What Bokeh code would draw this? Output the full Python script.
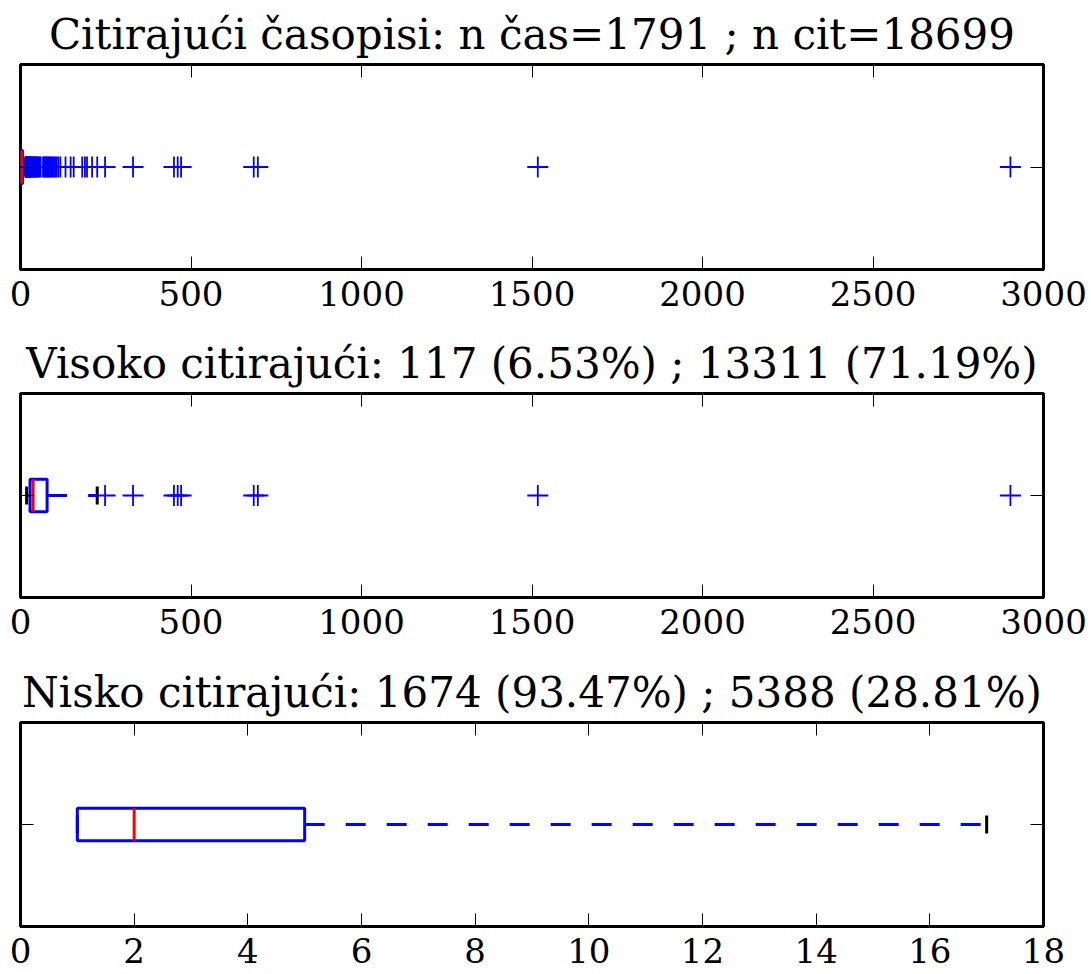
from bokeh.plotting import figure
from bokeh.models import Range1d, LinearAxis, FixedTicker
from bokeh.layouts import column
from bokeh.embed import file_html
from bokeh.resources import INLINE

FONT = "DejaVu Serif"

titles = [
    "Citirajući časopisi: n čas=1791 ; n cit=18699",
    "Visoko citirajući: 117 (6.53%) ; 13311 (71.19%)",
    "Nisko citirajući: 1674 (93.47%) ; 5388 (28.81%)",
]

# box statistics: q1, median, q3, lower whisker, upper whisker
stats_all = [1, 3, 6, 1, 13]
stats_high = [28, 37, 78, 18, 225]
stats_low = [1, 2, 5, 1, 17]

outliers_all = [14, 15, 16, 17, 18, 19, 20, 21, 22, 23, 24, 25, 26, 27, 28, 29, 30,
                32, 34, 36, 38, 40, 42, 44, 46, 48, 50, 53, 56, 59, 66, 69, 72, 75,
                78, 81, 84, 87, 90, 94, 98, 102, 106, 111, 117,
                132, 147, 156, 181, 189, 195, 210, 225, 248, 330,
                450, 461, 471, 684, 696, 1517, 2903]
outliers_high = [248, 330, 450, 461, 471, 684, 696, 1517, 2903]
outliers_low = []

ticks_wide = [0, 500, 1000, 1500, 2000, 2500, 3000]
ticks_low = [0, 2, 4, 6, 8, 10, 12, 14, 16, 18]


def style_axis(ax, ticks, labels=True):
    ax.ticker = FixedTicker(ticks=ticks)
    ax.major_tick_in = 13
    ax.major_tick_out = 0
    ax.major_tick_line_color = "black"
    ax.major_tick_line_width = 1
    ax.minor_tick_line_color = None
    ax.axis_line_color = None
    if labels:
        ax.major_label_text_font = FONT
        ax.major_label_text_font_size = "34px"
        ax.major_label_text_color = "black"
        ax.major_label_standoff = 11
    else:
        ax.major_label_overrides = {t: "" for t in ticks}
        ax.major_label_text_font_size = "10px"
        ax.major_label_standoff = 0


def panel(title, xmax, ticks, stats, outliers, height, top, bottom):
    p = figure(width=1091, height=height, title=title,
               x_range=Range1d(0, xmax), y_range=Range1d(0.5, 1.5),
               output_backend="svg", toolbar_location=None,
               min_border_left=20, min_border_right=48,
               min_border_top=top, min_border_bottom=bottom)
    p.title.text_font = FONT
    p.title.text_font_size = "42px"
    p.title.text_font_style = "normal"
    p.title.text_color = "black"
    p.title.align = "center"
    p.title.standoff = 11
    p.grid.visible = False
    p.outline_line_color = "black"
    p.outline_line_width = 3
    p.background_fill_color = "white"
    p.border_fill_color = "white"

    style_axis(p.xaxis[0], ticks, True)
    style_axis(p.yaxis[0], [1], False)
    top_ax = LinearAxis()
    style_axis(top_ax, ticks, False)
    p.add_layout(top_ax, "above")
    right_ax = LinearAxis()
    style_axis(right_ax, [1], False)
    p.add_layout(right_ax, "right")

    q1, med, q3, lo, hi = stats
    bw = 0.16
    cw = 0.088
    # whiskers (dashed, drawn outward from the box)
    p.segment(x0=[q3, q1], y0=[1, 1], x1=[hi, lo], y1=[1, 1],
              line_color="blue", line_width=3, line_dash="20 21")
    # caps
    p.segment(x0=[lo, hi], y0=[1 - cw / 2] * 2, x1=[lo, hi], y1=[1 + cw / 2] * 2,
              line_color="black", line_width=3)
    # box
    p.quad(left=[q1], right=[q3], bottom=[1 - bw / 2], top=[1 + bw / 2],
           fill_color=None, line_color="blue", line_width=3)
    # median
    p.segment(x0=[med], y0=[1 - bw / 2], x1=[med], y1=[1 + bw / 2],
              line_color="red", line_width=3)
    if outliers:
        p.scatter(x=outliers, y=[1] * len(outliers), marker="cross", size=21,
                  line_color="blue", line_width=1.8, fill_color=None)
    return p


p1 = panel(titles[0], 3000, ticks_wide, stats_all, outliers_all, 328, 64, 59)
p2 = panel(titles[1], 3000, ticks_wide, stats_high, outliers_high, 328, 65, 59)
p3 = panel(titles[2], 18, ticks_low, stats_low, outliers_low, 318, 66, 48)

layout = column(p1, p2, p3, spacing=0)
open("out.html", "w").write(file_html(layout, INLINE))
